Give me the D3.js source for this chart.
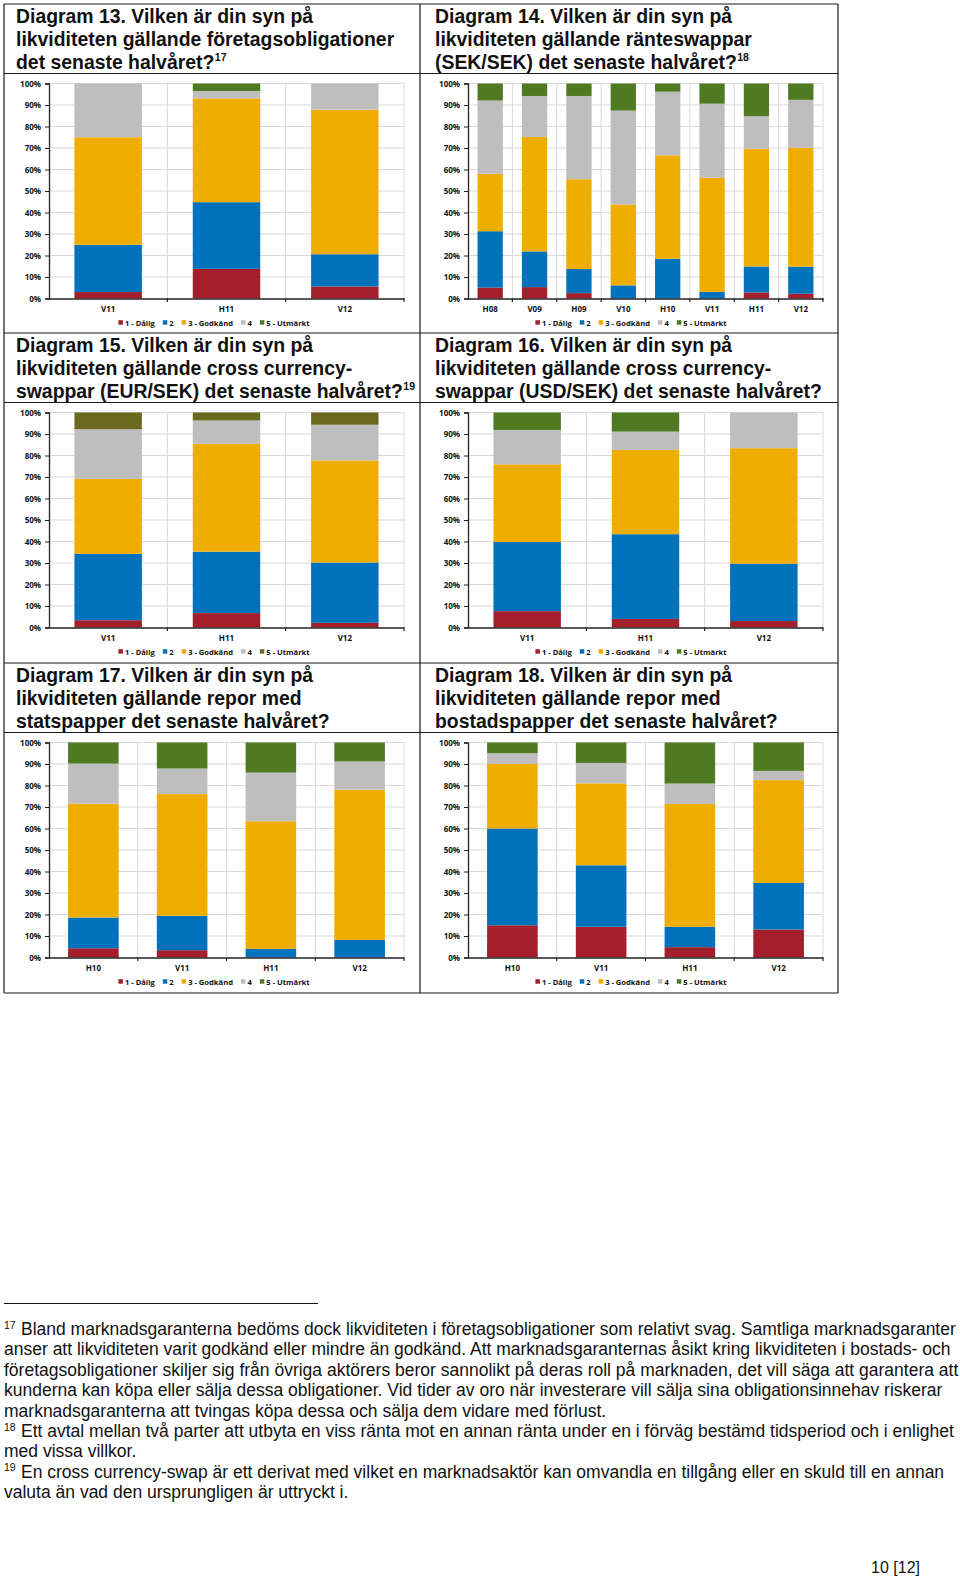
<!DOCTYPE html>
<html><head><meta charset="utf-8">
<script src="https://cdn.jsdelivr.net/npm/d3@7"></script>
<style>body{margin:0;background:#fff;} svg{display:block;}</style>
</head><body>
<script>
// ---------- DATA ----------
const seriesNames = ["1 - Dålig", "2", "3 - Godkänd", "4", "5 - Utmärkt"];
const yTickValues = [0, 10, 20, 30, 40, 50, 60, 70, 80, 90, 100];

const d13Title = ["Diagram 13. Vilken är din syn på", "likviditeten gällande företagsobligationer", "det senaste halvåret?"];
const d13Note = "17";
const d13Categories = ["V11", "H11", "V12"];
const d13Values = [
  [3.0, 13.8, 5.6],
  [22.0, 31.0, 15.0],
  [50.0, 48.3, 67.2],
  [25.0, 3.4, 12.2],
  [0.0, 3.5, 0.0]
];

const d14Title = ["Diagram 14. Vilken är din syn på", "likviditeten gällande ränteswappar", "(SEK/SEK) det senaste halvåret?"];
const d14Note = "18";
const d14Categories = ["H08", "V09", "H09", "V10", "H10", "V11", "H11", "V12"];
const d14Values = [
  [5.1, 5.3, 2.5, 0.0, 0.0, 0.0, 2.8, 2.2],
  [26.2, 16.6, 11.2, 6.1, 18.5, 3.1, 12.1, 12.6],
  [26.7, 53.2, 41.8, 37.6, 48.1, 53.1, 54.8, 55.3],
  [34.1, 19.1, 38.7, 43.7, 29.6, 34.4, 15.1, 22.3],
  [7.9, 5.8, 5.8, 12.6, 3.8, 9.4, 15.2, 7.6]
];

const d15Title = ["Diagram 15. Vilken är din syn på", "likviditeten gällande cross currency-", "swappar (EUR/SEK) det senaste halvåret?"];
const d15Note = "19";
const d15Categories = ["V11", "H11", "V12"];
const d15Values = [
  [3.4, 6.7, 2.2],
  [30.9, 28.6, 28.0],
  [34.8, 50.1, 47.5],
  [23.1, 10.9, 16.6],
  [7.8, 3.7, 5.7]
];

const d16Title = ["Diagram 16. Vilken är din syn på", "likviditeten gällande cross currency-", "swappar (USD/SEK) det senaste halvåret?"];
const d16Note = "";
const d16Categories = ["V11", "H11", "V12"];
const d16Values = [
  [7.6, 4.0, 3.0],
  [32.2, 39.4, 26.7],
  [36.1, 39.2, 53.7],
  [16.0, 8.5, 16.6],
  [8.1, 8.9, 0.0]
];

const d17Title = ["Diagram 17. Vilken är din syn på", "likviditeten gällande repor med", "statspapper det senaste halvåret?"];
const d17Note = "";
const d17Categories = ["H10", "V11", "H11", "V12"];
const d17Values = [
  [4.3, 3.4, 0.0, 0.0],
  [14.3, 16.0, 4.0, 8.2],
  [52.9, 56.6, 59.4, 69.9],
  [18.7, 11.9, 22.6, 13.1],
  [9.8, 12.1, 14.0, 8.8]
];

const d18Title = ["Diagram 18. Vilken är din syn på", "likviditeten gällande repor med", "bostadspapper det senaste halvåret?"];
const d18Note = "";
const d18Categories = ["H10", "V11", "H11", "V12"];
const d18Values = [
  [15.0, 14.3, 4.8, 13.0],
  [45.0, 28.6, 9.5, 21.7],
  [30.0, 38.1, 57.1, 47.8],
  [5.0, 9.5, 9.5, 4.3],
  [5.0, 9.5, 19.1, 13.2]
];

const footnoteLines = [
  ["17", "Bland marknadsgaranterna bedöms dock likviditeten i företagsobligationer som relativt svag. Samtliga marknadsgaranter"],
  ["", "anser att likviditeten varit godkänd eller mindre än godkänd. Att marknadsgaranternas åsikt kring likviditeten i bostads- och"],
  ["", "företagsobligationer skiljer sig från övriga aktörers beror sannolikt på deras roll på marknaden, det vill säga att garantera att"],
  ["", "kunderna kan köpa eller sälja dessa obligationer. Vid tider av oro när investerare vill sälja sina obligationsinnehav riskerar"],
  ["", "marknadsgaranterna att tvingas köpa dessa och sälja dem vidare med förlust."],
  ["18", "Ett avtal mellan två parter att utbyta en viss ränta mot en annan ränta under en i förväg bestämd tidsperiod och i enlighet"],
  ["", "med vissa villkor."],
  ["19", "En cross currency-swap är ett derivat med vilket en marknadsaktör kan omvandla en tillgång eller en skuld till en annan"],
  ["", "valuta än vad den ursprungligen är uttryckt i."]
];
const pageLabel = "10 [12]";

// ---------- STYLE ----------
const greenColors = ["#A21F2B", "#0072BB", "#EFAD00", "#BEBEBE", "#4F7A22"];
const oliveColors = ["#A21F2B", "#0072BB", "#EFAD00", "#BEBEBE", "#6B691F"];
const FONT = "'Open Sans', 'Noto Sans', sans-serif";
const TEXTFONT = "'Liberation Sans', Arial, sans-serif";

const panels = [
  {title: d13Title, note: d13Note, cats: d13Categories, vals: d13Values, colors: greenColors},
  {title: d14Title, note: d14Note, cats: d14Categories, vals: d14Values, colors: greenColors},
  {title: d15Title, note: d15Note, cats: d15Categories, vals: d15Values, colors: oliveColors},
  {title: d16Title, note: d16Note, cats: d16Categories, vals: d16Values, colors: greenColors},
  {title: d17Title, note: d17Note, cats: d17Categories, vals: d17Values, colors: greenColors},
  {title: d18Title, note: d18Note, cats: d18Categories, vals: d18Values, colors: greenColors}
];

const W = 960, H = 1585;
const svg = d3.select("body").append("svg").attr("width", W).attr("height", H)
  .style("font-family", FONT);
svg.append("rect").attr("width", W).attr("height", H).attr("fill", "#fff");

const colX = [4, 420, 838];
const rowY = [4, 333, 663, 993];
const plotLeft = [49, 468];
const plotRight = [404, 823];

panels.forEach((p, i) => {
  const col = i % 2, row = Math.floor(i / 2);
  const x0 = colX[col], x1 = colX[col + 1];
  const top = rowY[row];
  const g = svg.append("g");

  // title (one text block, one tspan per line)
  const tx = x0 + (col === 0 ? 12 : 15);
  const tt = g.append("text").attr("x", tx).attr("y", top + 19.3)
    .attr("font-family", TEXTFONT)
    .attr("font-size", 19.4).attr("font-weight", 700).attr("fill", "#111");
  p.title.forEach((line, li) => {
    tt.append("tspan").attr("x", tx).attr("y", top + 19.3 + li * 22.7).text(line);
  });
  if (p.note) {
    tt.append("tspan").attr("font-size", 10.5).attr("dx", 0.5)
      .attr("y", top + 19.3 + (p.title.length - 1) * 22.7 - 8).text(p.note);
  }

  // scales
  const yTop = top + 79.5, yBot = top + 294.5;
  const x = d3.scaleBand().domain(p.cats).range([plotLeft[col], plotRight[col]])
    .paddingInner(0.43).paddingOuter(0.215);
  const y = d3.scaleLinear().domain([0, 100]).range([yBot, yTop]);

  // horizontal grid
  g.append("g").selectAll("line").data(yTickValues.filter(v => v > 0)).join("line")
    .attr("x1", plotLeft[col]).attr("x2", plotRight[col])
    .attr("y1", d => y(d)).attr("y2", d => y(d))
    .attr("stroke", "#D9D9D9").attr("stroke-width", 1);
  // vertical grid at band boundaries
  const bounds = d3.range(1, p.cats.length + 1).map(k => plotLeft[col] + k * (plotRight[col] - plotLeft[col]) / p.cats.length);
  g.append("g").selectAll("line").data(bounds).join("line")
    .attr("x1", d => d).attr("x2", d => d).attr("y1", yTop).attr("y2", yBot)
    .attr("stroke", "#D9D9D9").attr("stroke-width", 1);

  // stacked bars
  const rows = p.cats.map((c, ci) => {
    const o = {cat: c};
    seriesNames.forEach((s, si) => o[s] = p.vals[si][ci]);
    return o;
  });
  const stacked = d3.stack().keys(seriesNames)(rows);
  g.append("g").selectAll("g").data(stacked).join("g")
    .attr("fill", (d, si) => p.colors[si])
    .selectAll("rect").data(d => d).join("rect")
    .attr("x", d => x(d.data.cat)).attr("width", x.bandwidth())
    .attr("y", d => y(d[1])).attr("height", d => Math.max(0, y(d[0]) - y(d[1])));

  // y axis
  const yAxis = d3.axisLeft(y).tickValues(yTickValues).tickFormat(d => d + "%").tickSize(4).tickPadding(4);
  const ya = g.append("g").attr("transform", `translate(${plotLeft[col]},0)`).call(yAxis);
  ya.select(".domain").attr("stroke", "#222").attr("stroke-width", 1.3);
  ya.selectAll(".tick line").attr("stroke", "#222");
  ya.selectAll("text").attr("font-size", 8).attr("font-weight", 700).attr("fill", "#111")
    .attr("font-family", FONT);

  // x axis
  const xAxis = d3.axisBottom(x).tickSize(0).tickPadding(0);
  const xa = g.append("g").attr("transform", `translate(0,${yBot})`).call(xAxis);
  xa.select(".domain").attr("stroke", "#222").attr("stroke-width", 1.3);
  xa.selectAll("text").attr("font-size", 8).attr("font-weight", 700).attr("fill", "#111")
    .attr("font-family", FONT).attr("dy", null).attr("y", 13.2);
  // boundary tick marks
  g.append("g").selectAll("line").data(bounds).join("line")
    .attr("x1", d => d).attr("x2", d => d).attr("y1", yBot).attr("y2", yBot + 3.5)
    .attr("stroke", "#222").attr("stroke-width", 1.2);

  // legend
  const lg = g.append("g");
  let cx = 0;
  seriesNames.forEach((s, si) => {
    lg.append("rect").attr("x", cx).attr("y", -5.5).attr("width", 4.5).attr("height", 4.5).attr("fill", p.colors[si]);
    const t = lg.append("text").attr("x", cx + 6.5).attr("y", 0).attr("font-size", 7.6)
      .attr("font-weight", 700).attr("fill", "#111").text(s);
    cx += 6.5 + t.node().getComputedTextLength() + 8;
  });
  const lw = cx - 8;
  lg.attr("transform", `translate(${(x0 + x1) / 2 + 2 - lw / 2},${top + 321.7})`);
});

// panel borders
const border = svg.append("g").attr("stroke", "#1a1a1a").attr("stroke-width", 1.2).attr("fill", "none");
rowY.forEach(yv => border.append("line").attr("x1", colX[0]).attr("x2", colX[2]).attr("y1", yv).attr("y2", yv));
rowY.slice(0, 3).forEach(yv => border.append("line").attr("x1", colX[0]).attr("x2", colX[2]).attr("y1", yv + 69.5).attr("y2", yv + 69.5));
colX.forEach(xv => border.append("line").attr("x1", xv).attr("x2", xv).attr("y1", rowY[0]).attr("y2", rowY[3]));

// footnotes (one text block)
svg.append("line").attr("x1", 4).attr("x2", 318).attr("y1", 1303.5).attr("y2", 1303.5)
  .attr("stroke", "#111").attr("stroke-width", 1);
const fn = svg.append("text").attr("x", 4).attr("y", 1335).attr("font-family", TEXTFONT)
  .attr("font-size", 17.5).attr("fill", "#111");
footnoteLines.forEach((ln, li) => {
  const yb = 1335 + li * 20.4;
  if (ln[0]) {
    fn.append("tspan").attr("x", 4).attr("y", yb - 6.5).attr("font-size", 10.5).text(ln[0]);
    fn.append("tspan").attr("x", 21).attr("y", yb).text(ln[1]);
  } else {
    fn.append("tspan").attr("x", 4).attr("y", yb).text(ln[1]);
  }
});
svg.append("text").attr("x", 920).attr("y", 1573).attr("text-anchor", "end").attr("font-family", TEXTFONT)
  .attr("font-size", 16).attr("fill", "#111").text(pageLabel);
</script>
</body></html>
